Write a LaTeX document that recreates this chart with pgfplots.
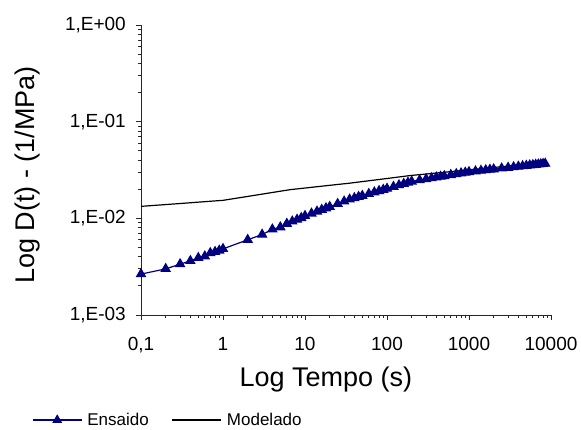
\documentclass[border=0pt]{standalone}
\usepackage{fontspec}
\setmainfont{Liberation Sans}
\usepackage{pgfplots}
\pgfplotsset{compat=1.18}
\definecolor{navy}{RGB}{0,0,128}
\begin{document}
\begin{tikzpicture}
\useasboundingbox (0,0) rectangle (581pt,430pt);
\begin{axis}[
  at={(141pt,115pt)}, anchor=south west,
  width=410pt, height=290pt, scale only axis,
  xmode=log, ymode=log,
  xmin=0.1, xmax=10000, ymin=0.001, ymax=1,
  axis x line*=bottom, axis y line*=left,
  axis line style={-, line width=0.8pt, black!85},
  xtick={0.1,1,10,100,1000,10000},
  xticklabels={{0,1},1,10,100,1000,10000},
  ytick={0.001,0.01,0.1,1},
  yticklabels={{1,E-03},{1,E-02},{1,E-01},{1,E+00}},
  minor xtick={}, minor ytick={},
  tick align=outside, major tick length=5pt,
  tick style={black!85, line width=0.8pt},
  ticklabel style={font=\fontsize{19}{22}\selectfont},
  xticklabel style={inner sep=0pt, yshift=-17pt},
  yticklabel style={inner sep=0pt, xshift=-10pt},
  xlabel={Log Tempo (s)},
  ylabel={Log D(t) - (1/MPa)},
  xlabel style={at={(axis description cs:0.451,-0.224)}, anchor=center, font=\fontsize{27}{32}\selectfont},
  ylabel style={at={(axis description cs:-0.2756,0.483)}, anchor=center, font=\fontsize{27}{32}\selectfont},
  clip=false,
  legend style={at={(axis description cs:-0.266,-0.362)}, anchor=west, draw=none, fill=none,
    inner sep=0pt, font=\fontsize{17}{20}\selectfont,
    /tikz/every even column/.append style={column sep=21pt}},
  legend columns=2,
  legend cell align=left,
  legend image code/.code={\draw[mark repeat=2,mark phase=2,#1] plot coordinates {(0pt,0pt) (24.5pt,0pt) (49pt,0pt)};},
]
\addlegendimage{navy, line width=1.2pt, mark=triangle*, mark size=4.5pt, mark options={solid}}
\addlegendentry{\hspace{3pt}Ensaido}
\addlegendimage{black, line width=1.2pt}
\addlegendentry{\hspace{3pt}Modelado}

% Modelado
\addplot[black, line width=1.2pt, forget plot] coordinates {
(0.1,0.0133) (0.2,0.01388) (0.3,0.01423) (0.5,0.0147) (0.7,0.01502) (1,0.01535)
(2,0.01685) (3,0.0178) (5,0.01908) (6.6,0.0198) (10,0.02058) (20,0.02195)
(35,0.0231) (50,0.02399) (100,0.02582) (191,0.0277) (500,0.02997) (1000,0.03173)
(2000,0.03358) (5000,0.0362) (8500,0.0378)
};

% Ensaido
\addplot[navy, line width=1.2pt, mark=triangle*, mark size=5pt, forget plot] coordinates {
(0.1,0.00265) (0.2,0.0030) (0.3,0.00336) (0.4,0.00363) (0.5,0.0039) (0.6,0.00405)
(0.7,0.00438) (0.8,0.0045) (0.9,0.00465) (1,0.00483)
(2,0.0060) (3,0.0068) (4,0.0077) (5,0.0081) (6,0.0088) (7,0.0093) (8,0.0097) (9,0.0101)
(10,0.0106) (12,0.01123) (14,0.01178) (16,0.01228) (18,0.01274) (20,0.01318)
(25,0.01413) (30,0.01497) (35,0.0157) (40,0.01622) (45,0.0167) (50,0.01713)
(60,0.01791) (70,0.0186) (80,0.01922) (90,0.01978) (100,0.0203)
(120,0.02123) (140,0.02205) (160,0.02279) (180,0.02346) (200,0.02408)
(250,0.02485) (300,0.0255) (350,0.02606) (400,0.02655) (450,0.027) (500,0.0274)
(600,0.02813) (700,0.02875) (800,0.02929) (900,0.02977) (1000,0.0302)
(1200,0.03071) (1400,0.03115) (1600,0.03154) (1800,0.03189) (2000,0.0322)
(2500,0.03287) (3000,0.03343) (3500,0.0339) (4000,0.03433) (4500,0.03471)
(5000,0.03504) (5500,0.03535) (6000,0.03564) (6500,0.03591) (7000,0.03616)
(7500,0.03639) (8000,0.03661) (8500,0.03682)
};
\end{axis}
\end{tikzpicture}
\end{document}
